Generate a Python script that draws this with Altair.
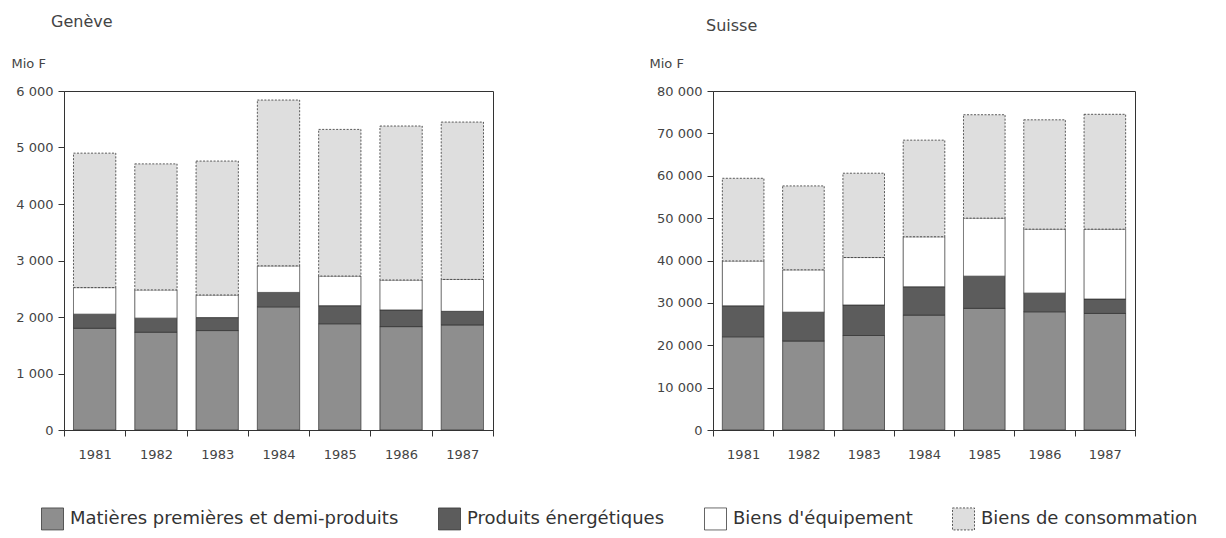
import altair as alt
import pandas as pd

years = ["1981", "1982", "1983", "1984", "1985", "1986", "1987"]
categories = ["Matières premières et demi-produits", "Produits énergétiques",
              "Biens d'équipement", "Biens de consommation"]
colors = ["#8e8e8e", "#5c5c5c", "#ffffff", "#dedede"]
dashes = [[1, 0], [1, 0], [1, 0], [2, 1.5]]

# Genève (Mio F)
g_matieres = [1800, 1730, 1760, 2180, 1880, 1830, 1860]
g_energie = [250, 250, 230, 255, 320, 295, 240]
g_equipement = [470, 500, 400, 470, 525, 530, 565]
g_consommation = [2380, 2230, 2370, 2935, 2595, 2725, 2785]

# Suisse (Mio F)
s_matieres = [22000, 21000, 22300, 27100, 28700, 27900, 27500]
s_energie = [7300, 6800, 7200, 6700, 7600, 4400, 3400]
s_equipement = [10600, 10000, 11200, 11800, 13700, 15100, 16500]
s_consommation = [19500, 19800, 19900, 22800, 24400, 25800, 27100]


def long_table(series):
    rows = []
    for k, (cat, vals) in enumerate(zip(categories, series)):
        for y, v in zip(years, vals):
            rows.append({"year": y, "category": cat, "value": v, "order": k})
    return pd.DataFrame(rows)


geneve = long_table([g_matieres, g_energie, g_equipement, g_consommation])
suisse = long_table([s_matieres, s_energie, s_equipement, s_consommation])

FONT = "DejaVu Sans"
sep_expr = "replace(format(datum.value, ','), ',', ' ')"


def panel(df, title, ymax, step, width, title_x, title_dx, title_offset):
    return alt.Chart(df).mark_bar(
        width={"band": 0.69}, stroke="#333333", strokeWidth=0.8
    ).encode(
        x=alt.X("year:N", sort=years,
                scale=alt.Scale(paddingInner=0, paddingOuter=0),
                axis=alt.Axis(title=None, labelAngle=0, tickBand="extent",
                              tickSize=6, labelPadding=12, domainColor="#333333",
                              tickColor="#333333", labelColor="#444444",
                              labelFontSize=13, labelFont=FONT)),
        y=alt.Y("value:Q", stack="zero",
                scale=alt.Scale(domain=[0, ymax], nice=False),
                axis=alt.Axis(values=list(range(0, ymax + 1, step)),
                              labelExpr=sep_expr, grid=False, tickSize=6,
                              domainColor="#333333", tickColor="#333333",
                              labelColor="#444444", labelFontSize=13,
                              labelFont=FONT, labelPadding=5,
                              title="Mio F", titleAngle=0, titleAlign="left",
                              titleBaseline="middle", titleX=title_x, titleY=-28,
                              titleFont=FONT, titleFontSize=13,
                              titleFontWeight="normal", titleColor="#444444")),
        color=alt.Color("category:N",
                        scale=alt.Scale(domain=categories, range=colors),
                        legend=alt.Legend(title=None)),
        strokeDash=alt.StrokeDash("category:N",
                                  scale=alt.Scale(domain=categories, range=dashes),
                                  legend=None),
        order=alt.Order("order:Q"),
    ).properties(
        width=width, height=339,
        title=alt.TitleParams(title, anchor="start", frame="group", dx=title_dx,
                              font=FONT, fontSize=16, fontWeight="normal",
                              color="#444444", offset=title_offset),
    )


left = panel(geneve, "Genève", 6000, 1000, 429, -53, -13, 27)
right = panel(suisse, "Suisse", 80000, 10000, 422, -64, -7, 23)

chart = alt.hconcat(left, right, spacing=154).properties(
    padding={"left": 2, "top": 5, "right": 5, "bottom": 5}
).configure_view(
    stroke="#333333", strokeWidth=1
).configure_legend(
    orient="none", legendX=-23, legendY=416, direction="horizontal",
    symbolType="square", symbolSize=484, symbolStrokeColor="#333333",
    symbolStrokeWidth=0.8, labelFont=FONT, labelFontSize=18, labelOffset=6,
    labelColor="#333333", columnPadding=37, labelLimit=500
)

chart.save("out.html", embed_options={"renderer": "svg", "actions": False})
